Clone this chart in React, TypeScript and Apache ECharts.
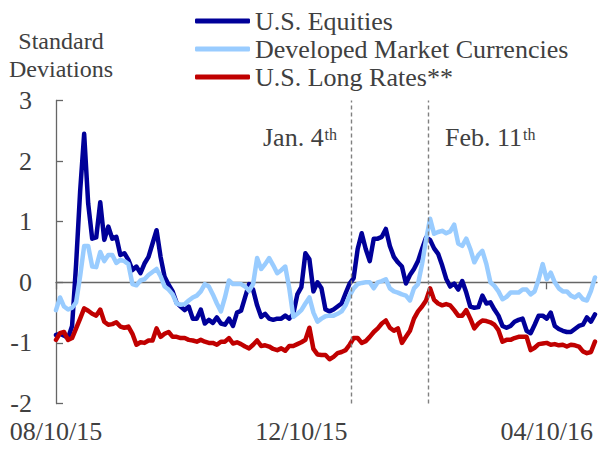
import React, { useEffect, useRef } from "react";
import * as echarts from "echarts";

// Sampling: one reading every 2 calendar days starting 08/10/2015 (day 0)
const STEP_DAYS = 2;
const AXIS_MAX_DAY = 269;

const seriesNames = ["U.S. Equities", "Developed Market Currencies", "U.S. Long Rates**"];
const seriesColors = ["#000099", "#99CCFF", "#C00000"];

const equities = [
  -0.87, -0.85, -0.88, -0.92, -0.72, 0.3, 1.5, 2.45, 1.3, 0.72,
  0.74, 1.32, 0.7, 0.92, 0.72, 0.75, 0.45, 0.48, 0.37, 0.2,
  0.26, 0.15, 0.31, 0.42, 0.64, 0.86, 0.42, 0.09, -0.04, -0.15,
  -0.34, -0.4, -0.46, -0.4, -0.6, -0.6, -0.45, -0.68, -0.62, -0.67,
  -0.58, -0.68, -0.7, -0.6, -0.72, -0.5, -0.47, -0.25, -0.03, -0.12,
  -0.38, -0.57, -0.52, -0.6, -0.62, -0.6, -0.6, -0.55, -0.6, -0.52,
  -0.2, -0.08, 0.48, 0.38, -0.15, 0.0, -0.1, -0.45, -0.48, -0.45,
  -0.4, -0.35, -0.18, -0.02, 0.07, 0.55, 0.81, 0.55, 0.35, 0.72,
  0.72, 0.75, 0.88, 0.6, 0.42, 0.33, 0.26, -0.02, 0.12, 0.22,
  0.35, 0.55, 0.74, 0.7, 0.56, 0.47, 0.28, 0.06, -0.07, -0.02,
  -0.12, 0.02, -0.17, -0.4, -0.42, -0.41, -0.22, -0.35, -0.33, -0.45,
  -0.55, -0.72, -0.75, -0.72, -0.65, -0.62, -0.6, -0.8, -0.84, -0.7,
  -0.55, -0.55, -0.6, -0.5, -0.72, -0.77, -0.8, -0.82, -0.82, -0.77,
  -0.72, -0.7, -0.58, -0.65, -0.53,
];

const currencies = [
  -0.46, -0.25, -0.4, -0.45, -0.42, -0.33, 0.1, 0.6, 0.6, 0.26,
  0.25, 0.5, 0.35, 0.45, 0.45, 0.32, 0.37, 0.35, 0.3, -0.03,
  -0.05, 0.03, 0.05, 0.12, 0.17, 0.22, 0.1, -0.07, -0.12, -0.2,
  -0.35, -0.37, -0.36, -0.3, -0.25, -0.22, -0.15, -0.03, -0.07, -0.2,
  -0.35, -0.48, -0.25, 0.03, -0.03, -0.03, -0.03, -0.07, -0.14, -0.03,
  0.4, 0.22, 0.3, 0.4, 0.28, 0.15, 0.2, 0.26, -0.1, -0.57,
  -0.52, -0.46, -0.35, -0.25, -0.5, -0.65, -0.6, -0.56, -0.55, -0.55,
  -0.52, -0.48, -0.38, -0.22, -0.1, -0.03, -0.01, 0.0, 0.0, -0.1,
  0.0, 0.02, 0.05, -0.1, -0.15, -0.17, -0.2, -0.22, -0.3, -0.1,
  -0.03, 0.3, 0.7, 1.05, 0.8, 0.83, 0.85, 0.81, 0.84, 0.95,
  0.64, 0.6, 0.72, 0.55, 0.33, 0.45, 0.52, 0.3, 0.0, -0.06,
  -0.15, -0.28, -0.24, -0.17, -0.17, -0.17, -0.12, -0.12, -0.2, -0.15,
  0.05, 0.3, 0.05, 0.16, 0.0, -0.1, -0.15, -0.15, -0.22, -0.25,
  -0.2, -0.28, -0.3, -0.14, 0.08,
];

const longRates = [
  -0.95, -0.84, -0.82, -0.95, -0.92, -0.76, -0.6, -0.43, -0.47, -0.52,
  -0.55, -0.45, -0.65, -0.7, -0.69, -0.66, -0.73, -0.75, -0.73, -0.85,
  -1.03, -0.99, -1.0, -0.96, -0.96, -0.76, -0.9, -0.85, -0.82, -0.9,
  -0.9, -0.92, -0.92, -0.95, -0.96, -0.98, -0.95, -0.98, -1.0, -1.0,
  -1.03, -0.98, -0.98, -0.92, -1.01, -0.99, -1.02, -1.06, -1.09, -1.03,
  -0.96, -1.05, -1.04, -1.06, -1.1, -1.12, -1.09, -1.13, -1.05, -1.05,
  -1.02, -0.99, -0.95, -0.75, -1.1, -1.19, -1.2, -1.2, -1.27, -1.23,
  -1.17, -1.15, -1.12, -1.03, -0.92, -0.92, -1.0, -0.97, -0.9, -0.82,
  -0.76, -0.68, -0.63, -0.75, -0.8, -0.76, -1.0, -0.9, -0.8, -0.6,
  -0.48, -0.4, -0.3, -0.1, -0.29, -0.35, -0.38, -0.36, -0.38, -0.46,
  -0.55, -0.55, -0.46, -0.6, -0.76, -0.68, -0.63, -0.64, -0.66, -0.7,
  -0.79, -0.98, -0.95, -0.95, -0.92, -0.9, -0.9, -0.9, -1.12, -1.08,
  -1.02, -1.01, -1.0, -1.03, -1.02, -1.04, -1.03, -1.06, -1.03, -1.04,
  -1.06, -1.14, -1.17, -1.15, -0.98,
];

// X tick labels (day offsets from 08/10/15)
const tickDays = [0, 122, 244];
const tickLabels = ["08/10/15", "12/10/15", "04/10/16"];

// Event markers (day offsets): Jan. 4th 2016, Feb. 11th 2016
const eventDays = [147, 185];

const FONT = "'Liberation Serif', 'Times New Roman', serif";
const TEXT = "#404040";
const AXIS = "#666666";

const toPairs = (vals: number[]) => vals.map((v, i) => [i * STEP_DAYS, v]);

export default function App() {
  const ref = useRef<HTMLDivElement>(null);
  useEffect(() => {
    if (!ref.current) return;
    const chart = echarts.init(ref.current, null, { renderer: "svg" });
    const allSeries = [equities, currencies, longRates];
    chart.setOption({
      animation: false,
      backgroundColor: "#ffffff",
      textStyle: { fontFamily: FONT },
      grid: { left: 56, right: 2, top: 100.5, bottom: 45.5, containLabel: false },
      legend: {
        orient: "vertical",
        left: 190,
        top: 2,
        itemWidth: 55,
        itemHeight: 5,
        itemGap: 0,
        icon: "roundRect",
        data: seriesNames,
        textStyle: { fontFamily: FONT, fontSize: 26, color: TEXT, lineHeight: 28 },
      },
      xAxis: [
        {
          type: "value",
          min: 0,
          max: AXIS_MAX_DAY,
          interval: 122,
          position: "bottom",
          axisLine: { show: true, onZero: true, lineStyle: { color: AXIS, width: 1.3 } },
          axisTick: { show: true, length: 7, customValues: tickDays, lineStyle: { color: AXIS, width: 1.3 } },
          axisLabel: { show: false },
          splitLine: { show: false },
        },
        {
          type: "value",
          min: 0,
          max: AXIS_MAX_DAY,
          interval: 122,
          position: "bottom",
          axisLine: { show: false, onZero: false },
          axisTick: { show: false },
          splitLine: { show: false },
          axisLabel: {
            show: true,
            customValues: tickDays,
            margin: 15,
            fontFamily: FONT,
            fontSize: 26,
            color: TEXT,
            formatter: (v: number) => {
              const i = tickDays.indexOf(v);
              return i >= 0 ? tickLabels[i] : "";
            },
          },
        },
      ],
      yAxis: {
        type: "value",
        min: -2,
        max: 3,
        interval: 1,
        axisLine: { show: true, onZero: false, lineStyle: { color: AXIS, width: 1.3 } },
        axisTick: { show: true, inside: true, length: 7, lineStyle: { color: AXIS, width: 1.3 } },
        axisLabel: { fontFamily: FONT, fontSize: 26, color: TEXT, margin: 24 },
        splitLine: { show: false },
      },
      series: [
        {
          name: "events",
          type: "line",
          data: [],
          z: 1,
          silent: true,
          markLine: {
            silent: true,
            symbol: ["none", "none"],
            label: { show: false },
            lineStyle: { color: "#808080", type: [4, 3], width: 1.4 },
            data: eventDays.map((d) => ({ xAxis: d })),
          },
        },
        ...seriesNames.map((name, i) => ({
          name,
          type: "line",
          xAxisIndex: 0,
          data: toPairs(allSeries[i]),
          symbol: "none",
          z: 2 + i,
          color: seriesColors[i],
          lineStyle: { color: seriesColors[i], width: 4.5, cap: "round", join: "round" },
          itemStyle: { color: seriesColors[i] },
        })),
      ],
      graphic: [
        {
          type: "text",
          x: 61,
          y: 27,
          style: {
            text: "Standard\nDeviations",
            fontFamily: FONT,
            fontSize: 24,
            lineHeight: 28,
            fill: TEXT,
            textAlign: "center",
            textVerticalAlign: "top",
          },
        },
        {
          type: "text",
          x: 263,
          y: 137.5,
          style: { text: "Jan. 4", fontFamily: FONT, fontSize: 26, fill: TEXT, textAlign: "left", textVerticalAlign: "middle" },
        },
        {
          type: "text",
          x: 324.5,
          y: 134,
          style: { text: "th", fontFamily: FONT, fontSize: 16, fill: TEXT, textAlign: "left", textVerticalAlign: "middle" },
        },
        {
          type: "text",
          x: 445,
          y: 137.5,
          style: { text: "Feb. 11", fontFamily: FONT, fontSize: 26, fill: TEXT, textAlign: "left", textVerticalAlign: "middle" },
        },
        {
          type: "text",
          x: 523,
          y: 134,
          style: { text: "th", fontFamily: FONT, fontSize: 16, fill: TEXT, textAlign: "left", textVerticalAlign: "middle" },
        },
      ],
    });
    return () => chart.dispose();
  }, []);
  return (
    <div
      ref={ref}
      style={{ position: "fixed", left: 0, top: 0, width: 599, height: 449, background: "#fff" }}
    />
  );
}
